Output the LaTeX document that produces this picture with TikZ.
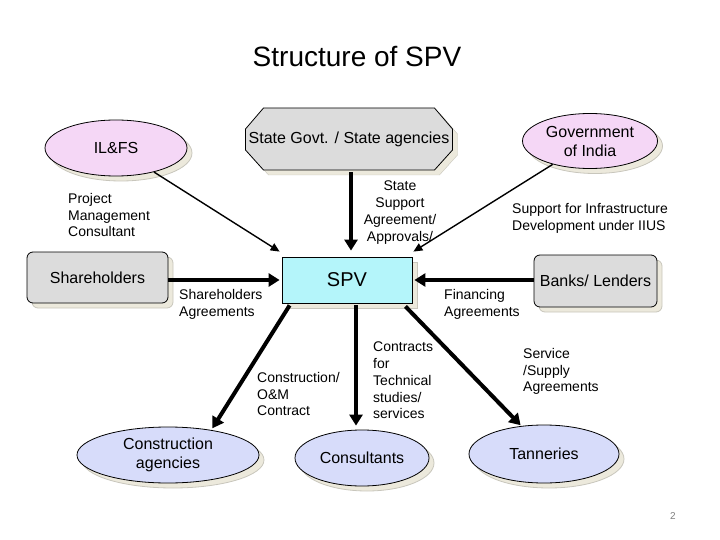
\documentclass[tikz,border=0pt]{standalone}
\usepackage{fontspec}
\setmainfont{Liberation Sans}
\usetikzlibrary{arrows.meta,shadows,shapes.geometric,calc}
\definecolor{pinkfill}{RGB}{245,215,246}
\definecolor{bluefill}{RGB}{215,220,250}
\definecolor{grayfill}{RGB}{220,220,220}
\definecolor{cyanfill}{RGB}{180,245,250}
\definecolor{shadowc}{RGB}{236,233,220}
\definecolor{shadowl}{RGB}{200,198,188}
\begin{document}
\begin{tikzpicture}[x=1pt,y=-1pt,
  lbl/.style={font=\fontsize{14}{16.7}\selectfont, align=left, inner sep=0pt, anchor=north west},
  shd/.style={general shadow={fill=shadowc, draw=shadowl, shadow xshift=5pt, shadow yshift=-5pt}},
  ell/.style={ellipse, draw=black, line width=0.8pt, inner sep=0pt, align=center,
    font=\fontsize{16}{19}\selectfont, shd},
  box/.style={rectangle, rounded corners=6pt, draw=black, line width=0.8pt, fill=grayfill,
    inner sep=0pt, font=\fontsize{16}{19}\selectfont, shd},
  thin/.style={line width=1.4pt, -{Triangle[length=9pt,width=8pt]}},
  thick/.style={line width=4pt, -{Triangle[length=11pt,width=13pt]}}
]
\useasboundingbox (0,0) rectangle (720,540);

\node[font=\fontsize{28}{32}\selectfont] (title) at (357,57) {Structure of SPV};

% nodes
\node[ell, fill=pinkfill, minimum width=142pt, minimum height=56pt] (ilfs) at (116,148) {IL\&FS};
\node[ell, fill=pinkfill, minimum width=135pt, minimum height=55pt] (goi) at (590,141) {Government\\of India};

% octagon (state)
\fill[shadowc, draw=shadowl] (268.5,113) -- (439.5,113) -- (457.5,134) -- (457.5,155) -- (439.5,175) -- (268.5,175) -- (250.5,155) -- (250.5,134) -- cycle;
\filldraw[fill=grayfill, draw=black, line width=0.8pt] (263.5,108) -- (434.5,108) -- (452.5,129) -- (452.5,150) -- (434.5,170) -- (263.5,170) -- (245.5,150) -- (245.5,129) -- cycle;
\node[minimum width=207pt, minimum height=62pt, inner sep=0pt, font=\fontsize{16}{19}\selectfont] (state) at (349,139) {State Govt. / State agencies};

\node[rectangle, draw=black, line width=0.8pt, fill=cyanfill, minimum width=130pt, minimum height=46pt,
  inner sep=0pt, font=\fontsize{20}{24}\selectfont, shd] (spv) at (347,280) {SPV};

\node[box, minimum width=141pt, minimum height=51pt] (share) at (97.5,277.5) {Shareholders};
\node[box, minimum width=123pt, minimum height=52pt] (banks) at (595.5,281) {Banks/ Lenders};

\node[ell, fill=bluefill, minimum width=182pt, minimum height=56pt] (cons) at (168,455) {Construction\\agencies};
\node[ell, fill=bluefill, minimum width=134pt, minimum height=56pt] (cnsl) at (362,458) {Consultants};
\node[ell, fill=bluefill, minimum width=150pt, minimum height=58pt] (tan) at (544,454) {Tanneries};

% connectors
\draw[thin] (ilfs) -- ($(spv.north west)+(-2,-5)$);
\draw[thin] (goi) -- ($(spv.north east)+(1,-5)$);
\coordinate (sa) at ($(state.south)+(2,2)$);
\draw[thick] (sa) -- (sa |- spv.north) [shorten >=6pt];
\draw[thick, shorten >=2pt] (share.east |- spv.west) -- (spv.west);
\draw[thick, shorten >=2pt] (banks.west |- spv.east) -- (spv.east);
\coordinate (b1) at ($(spv.south west)+(8,2)$);
\coordinate (b2) at ($(spv.south)+(9,2)$);
\coordinate (b3) at ($(spv.south east)+(-7,3)$);
\draw[thick, shorten >=2pt] (b1) -- (cons.30);
\draw[thick, shorten >=4pt] (b2) -- (b2 |- cnsl.north);
\draw[thick, shorten >=1pt] (b3) -- (tan.129);

% labels
\node[lbl] (l1) at (68,193) {Project\\Management\\Consultant};
\node[lbl, align=center, anchor=north] (l2) at (400,181) {State\\Support\\Agreement/\\Approvals/};
\node[lbl] (l3) at (512,203) {Support for Infrastructure\\Development under IIUS};
\node[lbl] (l4) at (179,289) {Shareholders\\Agreements};
\node[lbl] (l5) at (444,289) {Financing\\Agreements};
\node[lbl] (l6) at (257,372) {Construction/\\O\&M\\Contract};
\node[lbl] (l7) at (373,342) {Contracts\\for\\Technical\\studies/\\services};
\node[lbl] (l8) at (523,348) {Service\\/Supply\\Agreements};

\node[font=\fontsize{10}{12}\selectfont, text=gray] (pg) at (673,516) {2};
\end{tikzpicture}
\end{document}
